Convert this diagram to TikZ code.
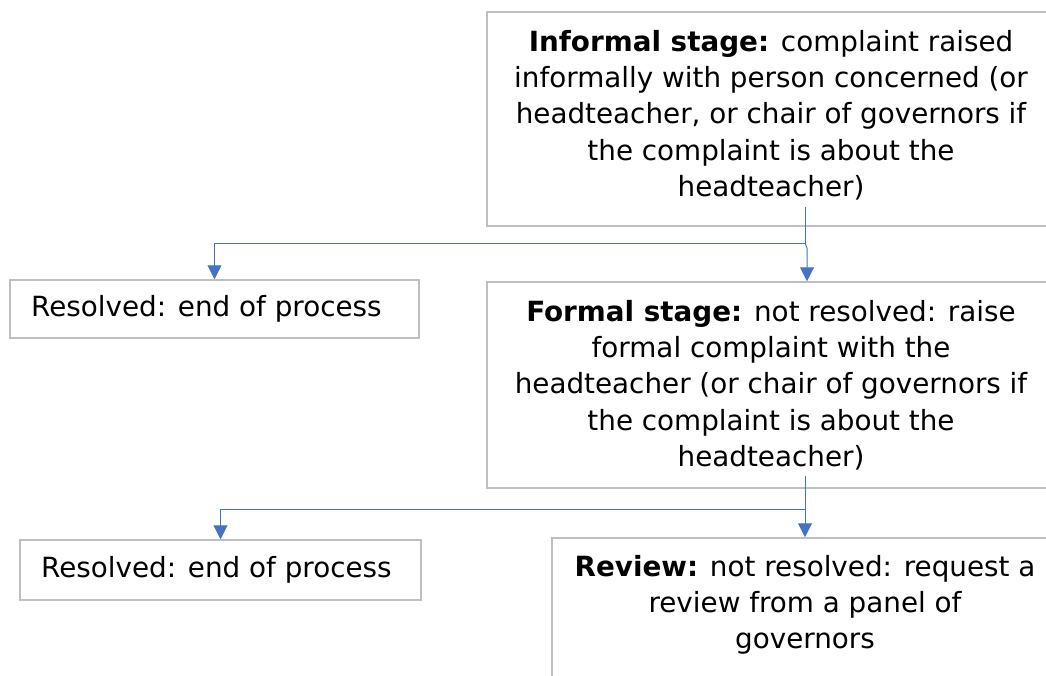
\documentclass[tikz,border=0pt]{standalone}
\usepackage{fontspec}
\setmainfont{DejaVu Sans}
\usetikzlibrary{arrows.meta}
\definecolor{boxgray}{RGB}{191,191,191}
\definecolor{linkblue}{RGB}{68,114,196}
\begin{document}
\begin{tikzpicture}[x=1pt,y=-1pt,
  box/.style={draw=boxgray,line width=1.5pt,rectangle,inner sep=0pt},
  txt/.style={align=center,inner sep=0pt,font=\fontsize{27.8}{36.3}\selectfont},
  conn/.style={draw=linkblue,line width=1pt,-{Triangle[width=14pt,length=14pt]}}]
\useasboundingbox (0,0) rectangle (1046,675);
\fill[white] (0,0) rectangle (1046,675);
% boxes
\node[box,minimum width=568pt,minimum height=214pt] (inf) at (771,119) {};
\node[txt] (inft) at (771,115) {\textbf{Informal stage:} complaint raised\\informally with person concerned (or\\headteacher, or chair of governors if\\the complaint is about the\\headteacher)};
\node[box,minimum width=409pt,minimum height=58pt] (res1) at (214.5,309) {};
\node[txt,anchor=west] (res1t) at (31,309) {Resolved: end of process};
\node[box,minimum width=568pt,minimum height=206pt] (form) at (771,385) {};
\node[txt] (formt) at (771,385) {\textbf{Formal stage:} not resolved: raise\\formal complaint with the\\headteacher (or chair of governors if\\the complaint is about the\\headteacher)};
\node[box,minimum width=401pt,minimum height=60pt] (res2) at (220.5,570) {};
\node[txt,anchor=west] (res2t) at (41,570) {Resolved: end of process};
\node[box,minimum width=506pt,minimum height=182pt] (rev) at (805,629) {};
\node[txt] (revt) at (805,605) {\textbf{Review:} not resolved: request a\\review from a panel of\\governors};
% connectors
\coordinate (c1) at (805,207);
\coordinate (j1) at (805,243);
\coordinate (k1) at (807,248);
\coordinate (c2) at (805,476);
\coordinate (j2) at (805,509);
\draw[conn] (c1) -- (j1) -| (res1.north);
\draw[conn] (j1) -- (k1) -- (k1 |- form.north);
\draw[conn] (c2) -- (j2) -| (res2.north);
\draw[conn] (j2) -- (j2 |- rev.north);
\end{tikzpicture}
\end{document}
